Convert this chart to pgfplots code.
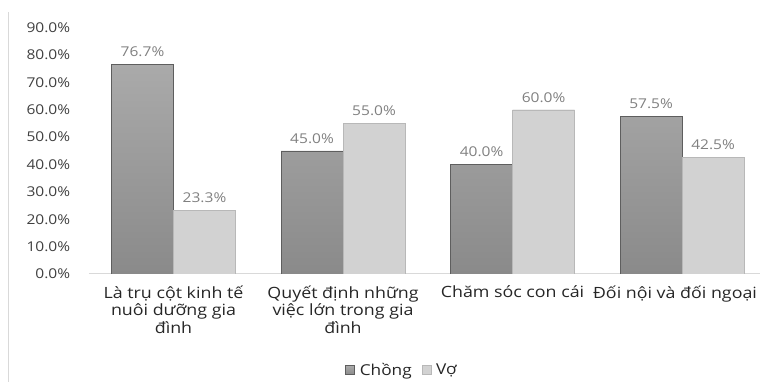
\documentclass[border=0pt]{standalone}
\usepackage{fontspec}
\setmainfont{Open Sans}[FakeStretch=1.15]
\usepackage{pgfplots}
\pgfplotsset{compat=1.18}
\definecolor{lineg}{HTML}{D9D9D9}
\definecolor{dtop}{HTML}{AAAAAA}
\definecolor{dbot}{HTML}{8A8A8A}
\definecolor{dedge}{HTML}{5E5E5E}
\definecolor{lfill}{HTML}{D2D2D2}
\definecolor{ledge}{HTML}{B8B8B8}
\definecolor{ticktxt}{HTML}{404040}
\definecolor{dlabel}{HTML}{808080}
\definecolor{cattxt}{HTML}{262626}
\begin{document}
\begin{tikzpicture}[x=1pt,y=1pt]
\useasboundingbox (0,0) rectangle (760,382);
\draw[color=lineg, line width=1pt] (8,0) -- (8,370);
\begin{axis}[
  scale only axis, width=671.25pt, height=246.4pt,
  at={(88.75pt,108pt)}, anchor=south west,
  xmin=-0.5, xmax=3.46, ymin=0, ymax=90,
  ybar=0pt, bar width=62pt,
  axis x line*=bottom, axis y line*=left,
  x axis line style={-, draw=lineg, line width=1pt},
  y axis line style={draw=none},
  major tick length=0pt,
  xtick={0,1,2,3},
  xticklabels={Là trụ cột kinh tế\\nuôi dưỡng gia\\đình, Quyết định những\\việc lớn trong gia\\đình, Chăm sóc con cái, \hspace*{-14pt}Đối nội và đối ngoại},
  xticklabel style={align=center, font=\fontsize{15.5}{17.5}\selectfont, text=cattxt, yshift=-8pt},
  ytick={0,10,...,90},
  /pgf/number format/assume math mode=true,
  yticklabel={\pgfmathprintnumber[fixed,fixed zerofill,precision=1]{\tick}\%},
  yticklabel style={font=\fontsize{13.5}{15}\selectfont, text=ticktxt, anchor=east, inner sep=0pt, xshift=-18.5pt},
  nodes near coords={\pgfmathprintnumber[fixed,fixed zerofill,precision=1]{\pgfplotspointmeta}\%},
  every node near coord/.append style={font=\fontsize{13.5}{15}\selectfont, text=dlabel, yshift=4pt},
  legend style={draw=none, legend columns=2, at={(0.4667,-0.39)}, anchor=center,
    font=\fontsize{15}{17}\selectfont, text=cattxt,
    /tikz/every even column/.append style={column sep=8pt}},
  legend image code/.code={\draw[#1] (0pt,-4.5pt) rectangle (9pt,4.5pt); \path (12pt,0pt);},
]
\addplot[draw=dedge, top color=dtop, bottom color=dbot] coordinates {(0,76.7) (1,45.0) (2,40.0) (3,57.5)};
\addplot[draw=ledge, fill=lfill] coordinates {(0,23.3) (1,55.0) (2,60.0) (3,42.5)};
\legend{Chồng, Vợ}
\end{axis}
\end{tikzpicture}
\end{document}
